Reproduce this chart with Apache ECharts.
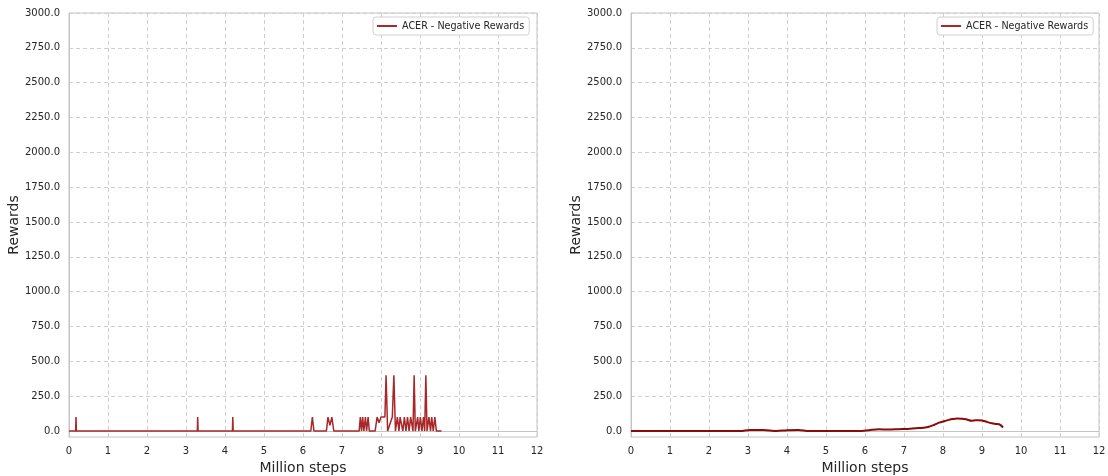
<!DOCTYPE html>
<html>
<head>
<meta charset="utf-8">
<script src="https://cdn.jsdelivr.net/npm/echarts@6/dist/echarts.min.js"></script>
<style>
  html, body { margin: 0; padding: 0; background: #fff; }
  #chart { width: 1108px; height: 476px; }
</style>
</head>
<body>
<div id="chart"></div>
<script>
// Tick labels
const xTicks = [0, 1, 2, 3, 4, 5, 6, 7, 8, 9, 10, 11, 12];
const yTicks = [0, 250, 500, 750, 1000, 1250, 1500, 1750, 2000, 2250, 2500, 2750, 3000];

// Raw negative rewards (million steps, reward)
const rawSteps = [
  0, 0.17, 0.18, 0.19, 3.29, 3.3, 3.31, 4.19, 4.2, 4.21,
  6.2, 6.24, 6.28, 6.6, 6.64, 6.69, 6.74, 6.79,
  7.44, 7.47, 7.5, 7.53, 7.56, 7.6, 7.63, 7.67, 7.7, 7.73,
  7.85, 7.9, 7.95, 8.0, 8.1, 8.13, 8.17, 8.29, 8.33, 8.37,
  8.42, 8.46, 8.49, 8.53, 8.56, 8.6, 8.64, 8.68, 8.72, 8.76, 8.82,
  8.85, 8.88, 8.94, 8.97, 9.01, 9.05, 9.09, 9.12, 9.15, 9.18, 9.23, 9.27,
  9.3, 9.34, 9.38, 9.42, 9.55
];
const rawRewards = [
  0, 0, 100, 0, 0, 100, 0, 0, 100, 0,
  0, 100, 0, 0, 100, 40, 100, 0,
  0, 100, 0, 100, 0, 100, 0, 100, 0, 0,
  0, 100, 60, 100, 100, 400, 0, 100, 400, 0,
  100, 0, 100, 100, 0, 100, 0, 100, 0, 100, 0,
  400, 0, 100, 0, 100, 0, 100, 0, 400, 0, 100, 0,
  100, 0, 100, 0, 0
];

// Smoothed negative rewards (million steps, reward)
const smoothSteps = [
  0, 1, 2, 2.8, 3.05, 3.4, 3.73, 4.0, 4.3, 4.56, 5.0, 5.5, 5.85,
  6.1, 6.36, 6.6, 6.87, 7.1, 7.3, 7.5, 7.64, 7.78, 7.9, 8.05, 8.15,
  8.25, 8.36, 8.48, 8.59, 8.74, 8.83, 8.92, 9.0, 9.1, 9.18, 9.26,
  9.35, 9.44, 9.54
];
const smoothRewards = [
  0, 0, 0, 0, 8, 8, 0, 6, 8, 0, 0, 0, 0,
  6, 12, 10, 13, 15, 20, 24, 30, 45, 60, 72, 80,
  86, 90, 88, 84, 73, 78, 78, 75, 68, 60, 55,
  50, 48, 25
];

const toPairs = (xs, ys) => xs.map((x, i) => [x, ys[i]]);

const font = 'DejaVu Sans';
const gridColor = '#cfcfcf';
const spineColor = '#c4c4c4';

function xAxis(gridIndex) {
  return {
    type: 'value', gridIndex, min: 0, max: 12, interval: 1,
    name: 'Million steps', nameLocation: 'middle', nameGap: 23,
    nameTextStyle: { fontFamily: font, fontSize: 14, color: '#262626' },
    axisLine: { show: true, lineStyle: { color: spineColor, width: 1 } },
    axisTick: { show: false },
    axisLabel: { fontFamily: font, fontSize: 10, color: '#262626', margin: 9,
                 customValues: xTicks, formatter: v => String(v) },
    splitLine: { show: true, lineStyle: { color: gridColor, type: [4, 3], width: 1 } }
  };
}

function yAxis(gridIndex) {
  return {
    type: 'value', gridIndex, min: -43, max: 3000,
    name: 'Rewards', nameLocation: 'middle', nameGap: 48,
    nameTextStyle: { fontFamily: font, fontSize: 14, color: '#262626' },
    axisLine: { show: true, lineStyle: { color: spineColor, width: 1 } },
    axisTick: { show: false, customValues: yTicks },
    axisLabel: { fontFamily: font, fontSize: 10, color: '#262626', margin: 9,
                 customValues: yTicks, formatter: v => v.toFixed(1) },
    splitLine: { show: true, lineStyle: { color: gridColor, type: [4, 3], width: 1 } }
  };
}

function legend(left) {
  return {
    left: left, top: 17,
    data: [{ name: 'ACER - Negative Rewards' }],
    itemWidth: 20, itemHeight: 2, itemGap: 6,
    icon: 'rect',
    textStyle: { fontFamily: font, fontSize: 9.6, color: '#262626' },
    borderColor: '#d0d0d0', borderWidth: 1, borderRadius: 3,
    padding: [4, 5, 4, 4], backgroundColor: '#fff'
  };
}

function grid(left) {
  return {
    left: left, top: 13, width: 468, height: 424,
    outerBoundsMode: 'none', containLabel: false,
    show: true, borderColor: spineColor, borderWidth: 1, backgroundColor: 'transparent'
  };
}

const chart = echarts.init(document.getElementById('chart'), null, { renderer: 'canvas' });
chart.setOption({
  animation: false,
  backgroundColor: '#ffffff',
  grid: [grid(69), grid(631)],
  legend: [legend(373), legend(937)],
  xAxis: [xAxis(0), xAxis(1)],
  yAxis: [yAxis(0), yAxis(1)],
  series: [
    {
      name: 'ACER - Negative Rewards', type: 'line', xAxisIndex: 0, yAxisIndex: 0,
      data: toPairs(rawSteps, rawRewards), showSymbol: false, symbol: 'none',
      itemStyle: { color: '#a8282a' },
      lineStyle: { color: '#a8282a', width: 1.5 }
    },
    {
      name: 'ACER - Negative Rewards', type: 'line', xAxisIndex: 1, yAxisIndex: 1,
      data: toPairs(smoothSteps, smoothRewards), showSymbol: false, symbol: 'none',
      smooth: 0.3,
      itemStyle: { color: '#8b0a0a' },
      lineStyle: { color: '#8b0a0a', width: 2 }
    }
  ]
});
</script>
</body>
</html>
